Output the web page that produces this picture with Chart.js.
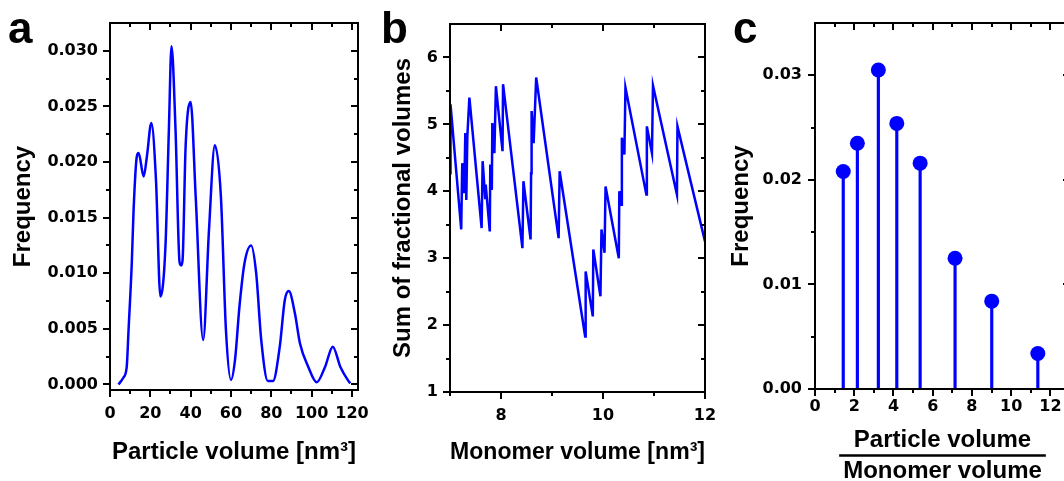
<!DOCTYPE html>
<html>
<head>
<meta charset="utf-8">
<script src="https://cdn.jsdelivr.net/npm/chart.js@4.4.1/dist/chart.umd.min.js"></script>
<style>
html, body { margin: 0; padding: 0; background: #fff; overflow: hidden; width: 1064px; height: 481px; }
.panel { position: absolute; top: 0; }
</style>
</head>
<body>
<div class="panel" style="left:0px"><canvas id="chartA" width="395" height="481"></canvas></div>
<div class="panel" style="left:365px"><canvas id="chartB" width="370" height="481"></canvas></div>
<div class="panel" style="left:712px"><canvas id="chartC" width="380" height="481"></canvas></div>
<script>
// panel a: particle volume distribution
const volA = [4.2, 6.6, 8.3, 9.2, 10.8, 11.7, 13.3, 14.2, 16.7, 18.3, 20.5, 22.8, 25.0, 27.5, 29.2, 30.5, 32.5,
  34.5, 35.3, 36.0, 37.5, 40.0, 42.5, 46.2, 49.1, 52.0, 55.0, 57.5, 60.0, 62.0, 64.2, 66.7, 70.0, 72.5, 75.0,
  78.3, 80.8, 84.2, 86.7, 88.7, 91.7, 94.2, 98.3, 102.5, 106.7, 110.5, 114.2, 118.3, 119.2];
const freqA = [0.0000, 0.0006, 0.0016, 0.0049, 0.0109, 0.0157, 0.0205, 0.0208, 0.0187, 0.0205, 0.0235, 0.0184,
  0.0079, 0.0124, 0.0229, 0.0304, 0.0229, 0.0110, 0.0107, 0.0112, 0.0214, 0.0254, 0.0169, 0.0040, 0.0139,
  0.0215, 0.0169, 0.0049, 0.0004, 0.0022, 0.0070, 0.0109, 0.0125, 0.0100, 0.0040, 0.0003, 0.0003, 0.0034,
  0.0076, 0.0084, 0.0064, 0.0037, 0.0016, 0.0002, 0.0016, 0.0034, 0.0016, 0.0003, 0.0001];

// panel b: sum of fractional volumes vs monomer volume
const monoB = [7.00, 7.01, 7.22, 7.24, 7.28, 7.30, 7.32, 7.34, 7.38, 7.62, 7.64, 7.69, 7.70, 7.78, 7.79, 7.82,
  7.83, 7.87, 7.90, 8.03, 8.04, 8.42, 8.44, 8.58, 8.59, 8.60, 8.64, 8.69, 9.13, 9.15, 9.65, 9.66, 9.80, 9.81,
  9.95, 9.97, 10.03, 10.05, 10.31, 10.32, 10.36, 10.37, 10.42, 10.44, 10.85, 10.86, 10.96, 10.98, 11.45, 11.46, 12.00];
const sumB = [4.27, 5.30, 3.43, 4.42, 3.97, 4.87, 3.87, 4.82, 5.40, 3.45, 4.45, 3.90, 4.10, 3.40, 4.40, 4.02,
  5.02, 4.57, 5.57, 4.60, 5.60, 3.15, 4.15, 3.28, 4.27, 5.20, 4.72, 5.70, 3.30, 4.30, 1.83, 2.80, 2.13, 3.13,
  2.43, 3.43, 3.08, 4.07, 3.00, 4.00, 3.80, 4.80, 4.55, 5.55, 3.95, 4.97, 4.57, 5.58, 3.95, 4.97, 3.25];

// panel c: peak frequencies vs volume ratio
const ratioC = [1.44, 2.16, 3.23, 4.17, 5.36, 7.14, 9.01, 11.36];
const freqC = [0.0208, 0.0235, 0.0305, 0.0254, 0.0216, 0.0125, 0.0084, 0.0034];

// tick values
const aXMajor = [0, 20, 40, 60, 80, 100, 120];
const aXMinor = [10, 30, 50, 70, 90, 110];
const aYMajor = [0, 0.005, 0.010, 0.015, 0.020, 0.025, 0.030];
const aYMinor = [0.0025, 0.0075, 0.0125, 0.0175, 0.0225, 0.0275];
const bXMajor = [8, 10, 12];
const bXMinor = [7, 9, 11];
const bYMajor = [1, 2, 3, 4, 5, 6];
const bYMinor = [1.5, 2.5, 3.5, 4.5, 5.5];
const cXMajor = [0, 2, 4, 6, 8, 10, 12];
const cXMinor = [1, 3, 5, 7, 9, 11];
const cYMajor = [0, 0.01, 0.02, 0.03];
const cYMinor = [0.005, 0.015, 0.025];

const BLUE = '#0000ff';
const TITLE_FONT = 'Liberation Sans';

// frame with mirrored ticks, panel letter, fraction bar
const frameTicks = {
  id: 'frameTicks',
  afterDraw(chart, args, opts) {
    const ctx = chart.ctx;
    const {left, right, top, bottom} = chart.chartArea;
    const xs = chart.scales.x, ys = chart.scales.y;
    ctx.save();
    ctx.strokeStyle = '#000';
    ctx.lineWidth = 2;
    ctx.strokeRect(left, top, right - left, bottom - top);
    ctx.beginPath();
    const xTick = (vals, len) => vals.forEach(v => {
      const p = Math.round(xs.getPixelForValue(v));
      if (p < left - 0.5 || p > right + 0.5) return;
      ctx.moveTo(p, bottom); ctx.lineTo(p, bottom + len);
      ctx.moveTo(p, top); ctx.lineTo(p, top + len);
    });
    const yTick = (vals, len) => vals.forEach(v => {
      const p = Math.round(ys.getPixelForValue(v));
      if (p < top - 0.5 || p > bottom + 0.5) return;
      ctx.moveTo(left, p); ctx.lineTo(left - len, p);
      ctx.moveTo(right, p); ctx.lineTo(right - len, p);
    });
    xTick(opts.xMajor, 7); xTick(opts.xMinor, 4);
    yTick(opts.yMajor, 7); yTick(opts.yMinor, 4);
    ctx.stroke();
    // panel letter
    ctx.fillStyle = '#000';
    ctx.font = 'bold 44px "' + TITLE_FONT + '"';
    ctx.textBaseline = 'alphabetic';
    ctx.fillText(opts.letter, opts.letterX, 43);
    // fraction bar between the two title lines
    if (opts.fraction) {
      const t = xs.options.title;
      ctx.font = 'bold ' + t.font.size + 'px "' + TITLE_FONT + '"';
      const w = Math.max(...t.text.map(s => ctx.measureText(s).width)) + 8;
      const cx = (xs.left + xs.right) / 2;
      const lh = t.font.size * t.font.lineHeight;
      const y = xs.bottom - t.padding.bottom - lh;
      ctx.lineWidth = 2.5;
      ctx.beginPath();
      ctx.moveTo(cx - w / 2, y); ctx.lineTo(cx + w / 2, y);
      ctx.stroke();
    }
    ctx.restore();
  }
};

function makeAxis(o) {
  return {
    type: 'linear',
    min: o.min,
    max: o.max,
    offset: false,
    grid: { display: false, drawTicks: false, tickLength: 0 },
    border: { display: false },
    afterBuildTicks: s => {
      s.ticks = o.major.concat(o.minor).sort((p, q) => p - q).map(v => ({ value: v }));
    },
    afterFit: s => {
      if (o.width) s.width = o.width;
      if (o.height) s.height = o.height;
    },
    ticks: {
      autoSkip: false,
      maxRotation: 0,
      padding: o.pad,
      color: '#000',
      font: { family: 'DejaVu Sans', size: 16, weight: 'bold' },
      callback: v => o.major.some(m => Math.abs(m - v) < 1e-9) ? o.fmt(v) : ''
    },
    title: {
      display: true,
      text: o.title,
      color: '#000',
      font: { family: TITLE_FONT, size: 24, weight: 'bold', lineHeight: o.lineHeight || 1.2 },
      padding: o.titlePad
    }
  };
}

const common = {
  responsive: false,
  animation: false,
  events: [],
  plugins: { legend: { display: false }, tooltip: { enabled: false } }
};

new Chart(document.getElementById('chartA'), {
  type: 'line',
  data: {
    datasets: [{
      data: volA.map((v, i) => ({ x: v, y: freqA[i] })),
      borderColor: BLUE,
      borderWidth: 2.5,
      pointRadius: 0,
      cubicInterpolationMode: 'monotone',
      fill: false
    }]
  },
  options: {
    ...common,
    layout: { padding: { left: 0, top: 23, right: 37, bottom: 0 } },
    scales: {
      x: makeAxis({ min: 0, max: 123, major: aXMajor, minor: aXMinor, fmt: v => String(v), pad: 14,
        height: 91, title: 'Particle volume [nm³]', titlePad: { bottom: 14 } }),
      y: makeAxis({ min: -0.0005, max: 0.0325, major: aYMajor, minor: aYMinor, fmt: v => v.toFixed(3), pad: 12,
        width: 110, title: 'Frequency', titlePad: { top: 9 } })
    },
    plugins: { ...common.plugins,
      frameTicks: { xMajor: aXMajor, xMinor: aXMinor, yMajor: aYMajor, yMinor: aYMinor, letter: 'a', letterX: 8 } }
  },
  plugins: [frameTicks]
});

new Chart(document.getElementById('chartB'), {
  type: 'line',
  data: {
    datasets: [{
      data: monoB.map((v, i) => ({ x: v, y: sumB[i] })),
      borderColor: BLUE,
      borderWidth: 2.5,
      pointRadius: 0,
      tension: 0,
      fill: false
    }]
  },
  options: {
    ...common,
    layout: { padding: { left: 0, top: 24, right: 30, bottom: 0 } },
    scales: {
      x: makeAxis({ min: 7, max: 12, major: bXMajor, minor: bXMinor, fmt: v => String(v), pad: 14,
        height: 89, title: 'Monomer volume [nm³]', titlePad: { bottom: 14 } }),
      y: makeAxis({ min: 1, max: 6.5, major: bYMajor, minor: bYMinor, fmt: v => String(v), pad: 12,
        width: 85, title: 'Sum of fractional volumes', titlePad: { top: 24 } })
    },
    plugins: { ...common.plugins,
      frameTicks: { xMajor: bXMajor, xMinor: bXMinor, yMajor: bYMajor, yMinor: bYMinor, letter: 'b', letterX: 16 } }
  },
  plugins: [frameTicks]
});

new Chart(document.getElementById('chartC'), {
  type: 'bar',
  data: {
    datasets: [{
      type: 'scatter',
      order: 0,
      data: ratioC.map((v, i) => ({ x: v, y: freqC[i] })),
      backgroundColor: BLUE,
      borderColor: BLUE,
      pointRadius: 7.5,
      pointBorderWidth: 0
    }, {
      type: 'bar',
      order: 1,
      data: ratioC.map((v, i) => ({ x: v, y: freqC[i] })),
      backgroundColor: BLUE,
      barThickness: 2.5
    }]
  },
  options: {
    ...common,
    layout: { padding: { left: 0, top: 23, right: 22, bottom: 0 } },
    scales: {
      x: makeAxis({ min: 0, max: 13, major: cXMajor, minor: cXMinor, fmt: v => String(v), pad: 8,
        height: 92, title: ['Particle volume', 'Monomer volume'], lineHeight: 1.29, titlePad: { bottom: -5.5 } }),
      y: makeAxis({ min: 0, max: 0.035, major: cYMajor, minor: cYMinor, fmt: v => v.toFixed(2), pad: 13,
        width: 103, title: 'Frequency', titlePad: { top: 15 } })
    },
    plugins: { ...common.plugins,
      frameTicks: { xMajor: cXMajor, xMinor: cXMinor, yMajor: cYMajor, yMinor: cYMinor, letter: 'c', letterX: 21, fraction: true } }
  },
  plugins: [frameTicks]
});
</script>
</body>
</html>
